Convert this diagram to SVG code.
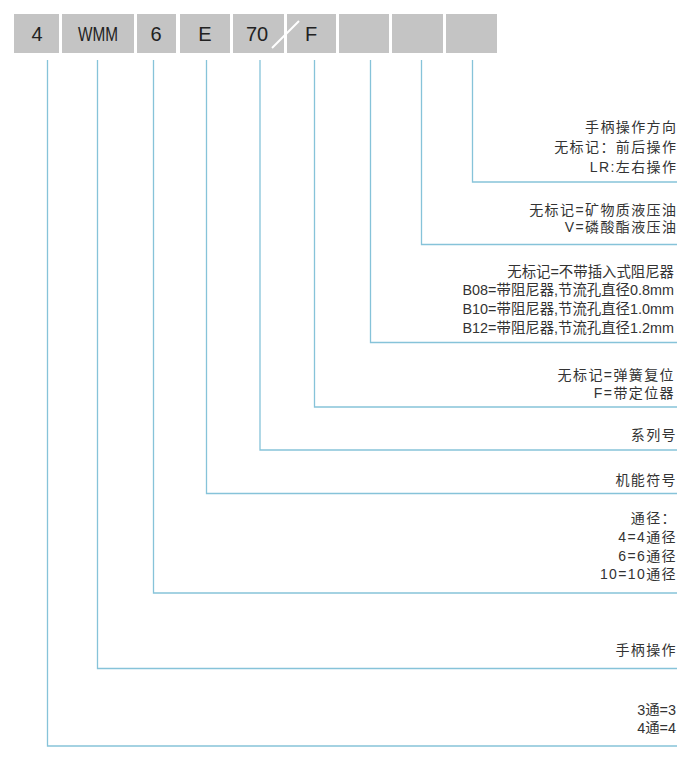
<svg xmlns="http://www.w3.org/2000/svg" width="700" height="764" viewBox="0 0 700 764">
<style>
.box{fill:#c4c4c4}
.bt{font-family:"Liberation Sans","Noto Sans CJK SC",sans-serif;font-size:20px;fill:#222;text-anchor:middle}
.t{font-family:"Liberation Sans","Noto Sans CJK SC",sans-serif;font-size:14px;fill:#333;text-anchor:end}
.s{letter-spacing:1.4px}
.d{font-size:14.4px}
.c{fill:none;stroke:#86c3d9;stroke-width:1.3}
</style>
<rect width="700" height="764" fill="#fff"/>
<g id="code">
<g id="b1"><rect class="box" x="14" y="14" width="45" height="39"/><text class="bt" x="37" y="41">4</text></g>
<g id="b2"><rect class="box" x="62" y="14" width="72" height="39"/><text class="bt" x="98" y="41" textLength="40" lengthAdjust="spacingAndGlyphs">WMM</text></g>
<g id="b3"><rect class="box" x="137" y="14" width="39" height="39"/><text class="bt" x="156" y="41">6</text></g>
<g id="b4"><rect class="box" x="180" y="14" width="50" height="39"/><text class="bt" x="205" y="41">E</text></g>
<g id="b5"><rect class="box" x="233" y="14" width="51" height="39"/><text class="bt" x="257" y="41">70</text></g>
<g id="b6"><rect class="box" x="287" y="14" width="49" height="39"/><text class="bt" x="311" y="41">F</text></g>
<g id="b7"><rect class="box" x="339" y="14" width="50" height="39"/></g>
<g id="b8"><rect class="box" x="392" y="14" width="51" height="39"/></g>
<g id="b9"><rect class="box" x="446" y="14" width="51" height="39"/></g>
<line id="slash" x1="272" y1="48" x2="299" y2="21" stroke="#fff" stroke-width="2"/>
</g>
<g id="connectors">
<path class="c" d="M472.5 60V182H677"/>
<path class="c" d="M421.5 60V244.5H677"/>
<path class="c" d="M370.5 60V342.5H677"/>
<path class="c" d="M314.5 60V407H677"/>
<path class="c" d="M260 60V450H677"/>
<path class="c" d="M206.5 60V493.5H677"/>
<path class="c" d="M153.5 60V593H677"/>
<path class="c" d="M97.5 60V668.5H677"/>
<path class="c" d="M47.5 60V746H677"/>
</g>
<g id="n-direction"><text class="t s" x="677.4" y="132">手柄操作方向</text><text class="t s" x="677.4" y="151.5">无标记：前后操作</text><text class="t s" x="677.4" y="171.5">LR:左右操作</text></g>
<g id="n-oil"><text class="t s" x="677.4" y="214.5">无标记=矿物质液压油</text><text class="t s" x="677.4" y="231.5">V=磷酸酯液压油</text></g>
<g id="n-damper"><text class="t d" x="674" y="276.5">无标记=不带插入式阻尼器</text><text class="t d" x="674" y="295">B08=带阻尼器,节流孔直径0.8mm</text><text class="t d" x="674" y="314">B10=带阻尼器,节流孔直径1.0mm</text><text class="t d" x="674" y="333">B12=带阻尼器,节流孔直径1.2mm</text></g>
<g id="n-spring"><text class="t s" x="675" y="380">无标记=弹簧复位</text><text class="t s" x="675" y="397.5">F=带定位器</text></g>
<g id="n-series"><text class="t s" x="677" y="440">系列号</text></g>
<g id="n-function"><text class="t s" x="677" y="485">机能符号</text></g>
<g id="n-size"><text class="t s" x="677" y="523">通径：</text><text class="t s" x="677" y="541.5">4=4通径</text><text class="t s" x="677" y="560.5">6=6通径</text><text class="t s" x="677" y="579">10=10通径</text></g>
<g id="n-handle"><text class="t s" x="677" y="655">手柄操作</text></g>
<g id="n-ways"><text class="t d" x="676" y="715">3通=3</text><text class="t d" x="676" y="733">4通=4</text></g>
</svg>
